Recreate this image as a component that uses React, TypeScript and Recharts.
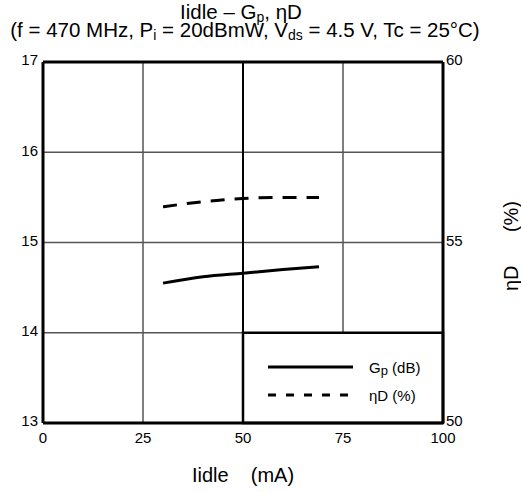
import React from "react";
import {
  CartesianGrid,
  ComposedChart,
  Line,
  ReferenceArea,
  ReferenceLine,
  XAxis,
  YAxis,
} from "recharts";

const idle = [30, 40, 50, 60, 69];
const gp = [14.55, 14.62, 14.66, 14.7, 14.73];
const etaD = [55.99, 56.13, 56.22, 56.25, 56.25];

const xTicks = [0, 25, 50, 75, 100];
const gpTicks = [13, 14, 15, 16, 17];
const etaTicks = [50, 55, 60];

const data = idle.map((x, i) => ({ idle: x, gp: gp[i], eta: etaD[i] }));

const FONT = "Liberation Sans, Arial, sans-serif";
const GRID = "#555555";

// legend sits inside the lower right cell of the grid
const LegendBox = () => (
  <div
    style={{
      position: "absolute",
      left: 266,
      top: 353,
      fontFamily: FONT,
      fontSize: 15,
      color: "#000",
    }}
  >
    <div style={{ display: "flex", alignItems: "center", height: 28 }}>
      <svg width={90} height={10}>
        <line x1={2} y1={5} x2={87} y2={5} stroke="#000" strokeWidth={3} />
      </svg>
      <span style={{ marginLeft: 13 }}>
        G<span style={{ fontSize: 13, position: "relative", top: 2 }}>p</span> (dB)
      </span>
    </div>
    <div style={{ display: "flex", alignItems: "center", height: 28 }}>
      <svg width={90} height={10}>
        <line
          x1={2}
          y1={5}
          x2={87}
          y2={5}
          stroke="#000"
          strokeWidth={3}
          strokeDasharray="8 10"
        />
      </svg>
      <span style={{ marginLeft: 13 }}>ηD (%)</span>
    </div>
  </div>
);

export default function App() {
  return (
    <div style={{ position: "absolute", left: 0, top: 0, width: 521, height: 492, background: "#fff" }}>
      <ComposedChart
        width={521}
        height={492}
        data={data}
        margin={{ top: 62, left: 10, right: 10, bottom: 39 }}
      >
        <CartesianGrid yAxisId="left" stroke={GRID} strokeWidth={1.5} />
        <XAxis
          dataKey="idle"
          type="number"
          domain={[0, 100]}
          ticks={xTicks}
          height={30}
          tickLine={false}
          tickSize={0}
          tickMargin={9}
          axisLine={{ stroke: "#000", strokeWidth: 3 }}
          tick={{ fill: "#000", fontSize: 15, fontFamily: FONT }}
        />
        <YAxis
          yAxisId="left"
          domain={[13, 17]}
          ticks={gpTicks}
          width={33}
          tickLine={false}
          tickSize={0}
          tickMargin={5}
          axisLine={{ stroke: "#000", strokeWidth: 3 }}
          tick={{ fill: "#000", fontSize: 15, fontFamily: FONT, dy: -2 }}
        />
        <YAxis
          yAxisId="right"
          orientation="right"
          domain={[50, 60]}
          ticks={etaTicks}
          width={68}
          tickLine={false}
          tickSize={0}
          tickMargin={3}
          axisLine={{ stroke: "#000", strokeWidth: 3 }}
          tick={{ fill: "#000", fontSize: 15, fontFamily: FONT, dy: -2 }}
        />
        <ReferenceArea
          yAxisId="left"
          x1={50}
          x2={100}
          y1={13}
          y2={14}
          fill="#fff"
          fillOpacity={1}
          stroke="#000"
          strokeWidth={2.5}
        />
        <ReferenceLine yAxisId="left" x={50} stroke="#000" strokeWidth={2} />
        <ReferenceLine yAxisId="left" y={17} stroke="#000" strokeWidth={3} />
        <Line
          yAxisId="left"
          dataKey="gp"
          type="monotone"
          stroke="#000"
          strokeWidth={3}
          dot={false}
          isAnimationActive={false}
        />
        <Line
          yAxisId="right"
          dataKey="eta"
          type="monotone"
          stroke="#000"
          strokeWidth={3}
          strokeDasharray="14 10"
          dot={false}
          isAnimationActive={false}
        />
      </ComposedChart>
      <LegendBox />
      <svg
        width={521}
        height={492}
        style={{ position: "absolute", left: 0, top: 0, pointerEvents: "none" }}
        fontFamily={FONT}
      >
        <text x={241} y={19} fontSize={20.5} textAnchor="middle" fill="#000">
          Iidle – G<tspan fontSize={14} dy={3}>p</tspan>
          <tspan dy={-3}>, ηD</tspan>
        </text>
        <text x={245} y={37} fontSize={20.5} textAnchor="middle" fill="#000">
          (f = 470 MHz, P<tspan fontSize={14} dy={3}>i</tspan>
          <tspan dy={-3}> = 20dBmW, V</tspan>
          <tspan fontSize={14} dy={3}>ds</tspan>
          <tspan dy={-3}> = 4.5 V, Tc = 25°C)</tspan>
        </text>
        <text
          x={243}
          y={482}
          fontSize={20}
          textAnchor="middle"
          fill="#000"
          style={{ whiteSpace: "pre" }}
        >
          {"Iidle    (mA)"}
        </text>
        <text
          x={511}
          y={246}
          fontSize={20}
          textAnchor="middle"
          dominantBaseline="central"
          fill="#000"
          transform="rotate(-90 511 246)"
          style={{ whiteSpace: "pre" }}
        >
          {"ηD      (%)"}
        </text>
      </svg>
    </div>
  );
}
